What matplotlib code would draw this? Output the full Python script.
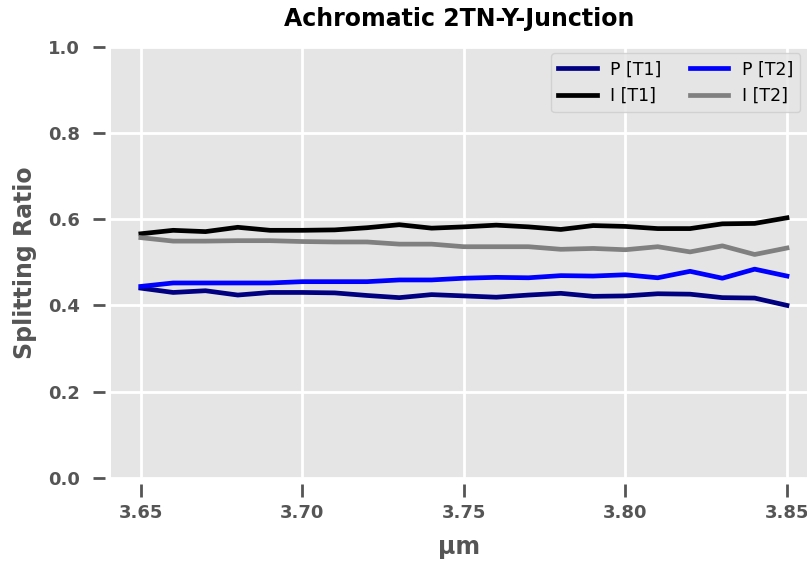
import matplotlib
matplotlib.use('Agg')
import matplotlib.pyplot as plt
import numpy as np

wl = [3.65, 3.66, 3.67, 3.68, 3.69, 3.70, 3.71, 3.72, 3.73, 3.74, 3.75,
      3.76, 3.77, 3.78, 3.79, 3.80, 3.81, 3.82, 3.83, 3.84, 3.85]
p_t1 = [0.440, 0.430, 0.434, 0.424, 0.430, 0.430, 0.429, 0.423, 0.418, 0.425, 0.422,
        0.419, 0.424, 0.428, 0.421, 0.422, 0.427, 0.426, 0.418, 0.417, 0.400]
p_t2 = [0.444, 0.452, 0.452, 0.452, 0.452, 0.455, 0.455, 0.455, 0.459, 0.459, 0.463,
        0.465, 0.464, 0.469, 0.468, 0.471, 0.464, 0.479, 0.463, 0.484, 0.468]
i_t1 = [0.566, 0.574, 0.571, 0.581, 0.574, 0.574, 0.575, 0.580, 0.587, 0.579, 0.582,
        0.586, 0.582, 0.576, 0.585, 0.583, 0.578, 0.578, 0.589, 0.590, 0.603]
i_t2 = [0.557, 0.549, 0.549, 0.550, 0.550, 0.548, 0.547, 0.547, 0.542, 0.542, 0.536,
        0.536, 0.536, 0.530, 0.532, 0.529, 0.536, 0.524, 0.538, 0.518, 0.533]

fig = plt.figure(figsize=(8.07, 5.63), dpi=100)
ax = fig.add_axes([110.5/807, 1 - 478/563, (807 - 110.5)/807, (478 - 46.5)/563])
ax.set_facecolor('#E5E5E5')

lw = 3.4
ax.plot(wl, p_t1, color='#000080', lw=lw, label='P [T1]')
ax.plot(wl, i_t1, color='black', lw=lw, label='I [T1]')
ax.plot(wl, p_t2, color='blue', lw=lw, label='P [T2]')
ax.plot(wl, i_t2, color='gray', lw=lw, label='I [T2]')

ax.set_xlim(3.6406, 3.8562)
ax.set_ylim(0, 1.0)
ax.set_xticks([3.65, 3.70, 3.75, 3.80, 3.85])
ax.set_yticks([0.0, 0.2, 0.4, 0.6, 0.8, 1.0])
ax.grid(True, color='white', lw=2)
ax.set_axisbelow(True)

for side in ['left', 'bottom']:
    ax.spines[side].set_position(('outward', 4))
for s in ax.spines.values():
    s.set_visible(False)
ax.tick_params(axis='both', colors='#555555', length=9, width=2, labelsize=13)
for t in ax.get_xticklabels() + ax.get_yticklabels():
    t.set_fontweight('bold')
ax.xaxis.set_tick_params(pad=6)
ax.yaxis.set_tick_params(pad=9)

ax.set_xlabel('µm', fontsize=17, fontweight='bold', color='#555555', labelpad=9)
ax.set_ylabel('Splitting Ratio', fontsize=17, fontweight='bold', color='#555555', labelpad=8)
ax.set_title('Achromatic 2TN-Y-Junction', fontsize=17, fontweight='bold', pad=15)

ax.legend(loc='upper right', ncol=2, fontsize=12.5, facecolor='#E5E5E5',
          edgecolor='#CCCCCC', framealpha=0.8, handlelength=2.2, columnspacing=1.6,
          borderaxespad=0.4)

fig.savefig('out.png', dpi=100)
